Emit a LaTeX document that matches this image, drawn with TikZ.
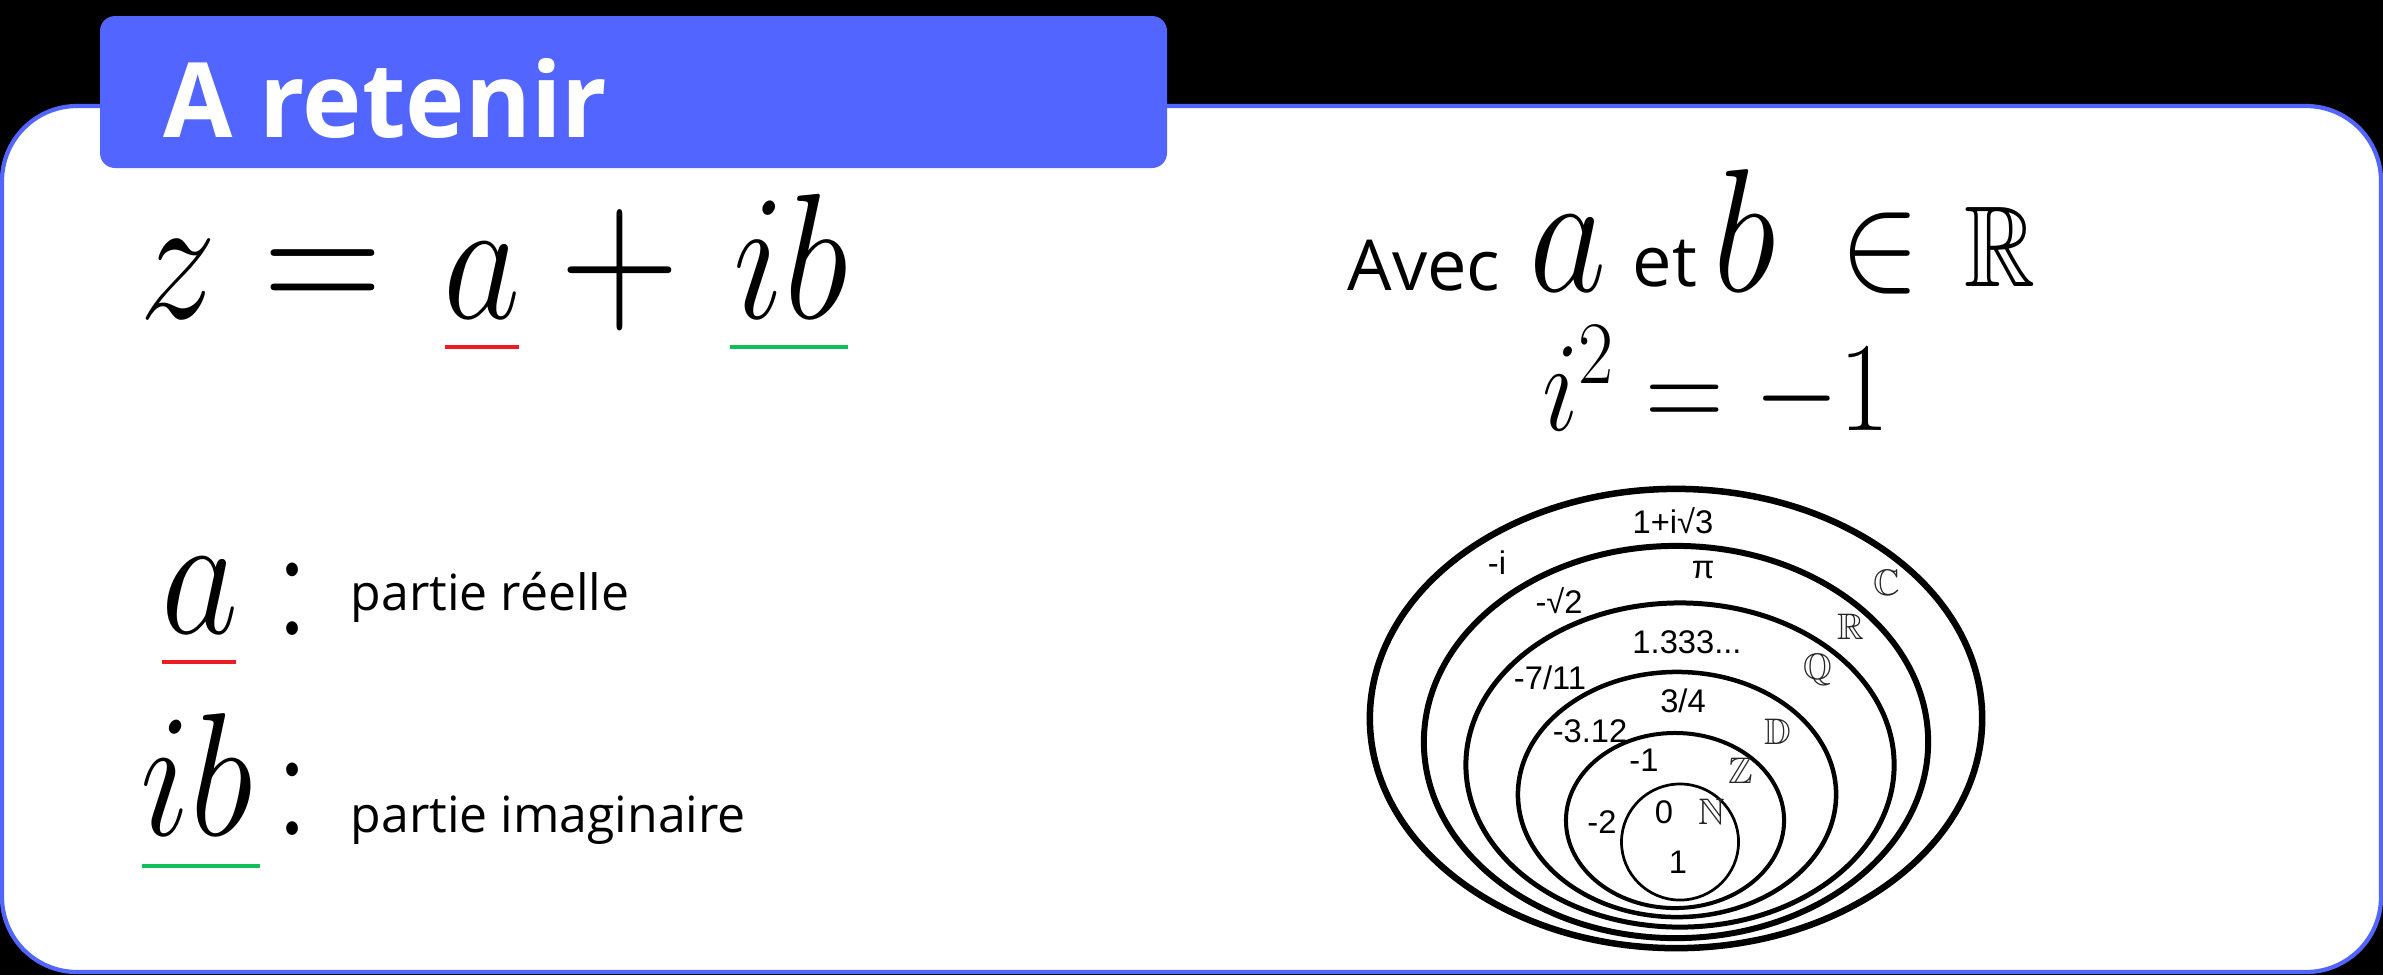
\RequirePackage{fix-cm}
\documentclass[tikz,border=0pt]{standalone}
\usepackage{amssymb}
\DeclareFontFamily{U}{msb}{}
\DeclareFontShape{U}{msb}{m}{n}{<-> msbm10}{}
\usepackage{graphicx}
\usepackage[no-math]{fontspec}
\setmainfont{Open Sans}
\newfontfamily\labfont{Liberation Sans}
\definecolor{rblue}{RGB}{82,101,255}
\definecolor{ured}{RGB}{237,28,36}
\definecolor{ugreen}{RGB}{16,190,90}
\newcommand{\bigmath}[2]{\scalebox{1}[1.17]{\fontsize{#1}{#1}\selectfont$#2$}}
\tikzset{
  mth/.style={inner sep=0pt, anchor=base},
  txt/.style={inner sep=0pt, anchor=base west},
  lab/.style={inner sep=0pt, anchor=center, font=\labfont\fontsize{9.3}{10}\selectfont},
  bbl/.style={inner sep=0pt, anchor=center, text=black!85, font=\fontsize{10.5}{11}\selectfont},
  uline/.style={line width=1.3pt},
}
\begin{document}
\begin{tikzpicture}[x=0.01cm, y=-0.01cm]
\useasboundingbox (0,0) rectangle (2383,975);
\fill[black] (0,0) rectangle (2383,975);
% main box
\draw[rblue, line width=1.2pt, fill=white, rounded corners=0.75cm] (2,106) rectangle (2381,972);
% title
\fill[rblue, rounded corners=0.15cm] (100,16) rectangle (1167,168);
\node[txt, text=white, font=\fontsize{29.6}{30}\selectfont\bfseries] (title) at (163,137) {\scalebox{0.965}[1]{A retenir}};

% z = a + ib
\node[mth] (z) at (178,318) {\bigmath{44}{z}};
\node[mth] (eq) at (323,318) {\bigmath{47}{=}};
\node[mth] (a1) at (482,318) {\bigmath{42.7}{a}};
\node[mth] (plus) at (620,318) {\bigmath{47}{+}};
\node[mth] (ib1) at (791,318) {\bigmath{43.5}{ib}};
\draw[uline, ured] (445,347) -- (519,347);
\draw[uline, ugreen] (730,347) -- (848,347);

% a : partie reelle
\node[mth] (a2) at (200,633) {\bigmath{42.7}{a}};
\node[mth] (c1) at (292,635) {\bigmath{41}{:}};
\node[txt, font=\fontsize{14.2}{16}\selectfont] (pr) at (350,610) {partie réelle};
\draw[uline, ured] (162,662) -- (236,662);

% ib : partie imaginaire
\node[mth] (ib2) at (197,835) {\bigmath{42.7}{ib}};
\node[mth] (c2) at (292,835) {\bigmath{41}{:}};
\node[txt, font=\fontsize{14.2}{16}\selectfont] (pi) at (350,832) {partie imaginaire};
\draw[uline, ugreen] (142,866) -- (260,866);

% Avec a et b in R
\node[txt, font=\fontsize{20}{22}\selectfont] (avec) at (1347,290) {Avec};
\node[mth] (a3) at (1568,291) {\bigmath{42.7}{a}};
\node[txt, font=\fontsize{20}{22}\selectfont] (et) at (1632,286) {et};
\node[mth] (b3) at (1745,291) {\bigmath{42.7}{b}};
\node[mth] (in) at (1880,288) {\bigmath{34}{\in}};
\node[mth] (RR) at (2000,286) {\bigmath{28}{\mathbb{R}}};

% i^2 = -1
\node[mth] (isq) at (1716,430) {\bigmath{31}{i^2=-1}};

% nested sets
\draw[line width=1.85pt] (1676,718.5) ellipse [x radius=3.06cm, y radius=2.295cm];
\draw[line width=1.7pt] (1676,742) ellipse [x radius=2.52cm, y radius=1.96cm];
\draw[line width=1.42pt] (1680,765) ellipse [x radius=2.14cm, y radius=1.62cm];
\draw[line width=1.28pt] (1677,794.5) ellipse [x radius=1.59cm, y radius=1.225cm];
\draw[line width=1.14pt] (1675,820.5) ellipse [x radius=1.09cm, y radius=0.875cm];
\draw[line width=0.77pt] (1680,842) ellipse [x radius=0.585cm, y radius=0.58cm];

\node[lab] (l1) at (1673,521) {1+i√3};
\node[lab] (l2) at (1497,563) {-i};
\node[lab] (l3) at (1703,570) {π};
\node[bbl] (sC) at (1887,583) {$\mathbb{C}$};
\node[lab] (l4) at (1559,601) {-√2};
\node[bbl] (sR) at (1851,627) {$\mathbb{R}$};
\node[lab] (l5) at (1687,642) {1.333...};
\node[bbl] (sQ) at (1818,670) {$\mathbb{Q}$};
\node[lab] (l6) at (1550,678) {-7/11};
\node[lab] (l7) at (1683,701) {3/4};
\node[bbl] (sD) at (1778,732) {$\mathbb{D}$};
\node[lab] (l8) at (1590,731) {-3.12};
\node[lab] (l9) at (1644,760) {-1};
\node[bbl] (sZ) at (1741,771) {$\mathbb{Z}$};
\node[lab] (l10) at (1602,822) {-2};
\node[lab] (l11) at (1664,812) {0};
\node[bbl] (sN) at (1712,812) {$\mathbb{N}$};
\node[lab] (l12) at (1678,862) {1};
\end{tikzpicture}
\end{document}
